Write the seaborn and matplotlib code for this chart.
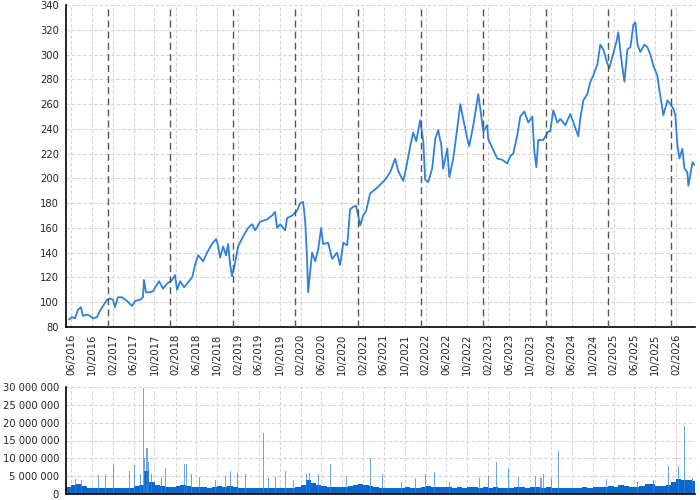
import numpy as np
import pandas as pd
import seaborn as sns
import matplotlib.pyplot as plt
import matplotlib.dates as mdates
from matplotlib.ticker import FuncFormatter

# price line
price_dates = [
    "2016-05-20", "2016-06-07", "2016-06-24", "2016-07-12", "2016-07-29", "2016-08-10", "2016-09-02",
    "2016-09-20", "2016-10-07", "2016-10-31", "2016-11-17", "2016-12-05", "2016-12-28", "2017-01-15",
    "2017-02-01", "2017-02-13", "2017-03-02", "2017-03-26", "2017-04-24", "2017-05-23", "2017-06-10",
    "2017-07-09", "2017-07-26", "2017-08-01", "2017-08-13", "2017-09-05", "2017-09-23", "2017-10-10",
    "2017-10-28", "2017-11-20", "2017-12-14", "2018-01-12", "2018-01-29", "2018-02-10", "2018-02-28",
    "2018-03-23", "2018-04-15", "2018-05-09", "2018-05-26", "2018-06-13", "2018-07-12", "2018-08-04",
    "2018-09-02", "2018-09-26", "2018-10-07", "2018-10-19", "2018-11-06", "2018-11-23", "2018-12-05",
    "2018-12-17", "2018-12-28", "2019-01-15", "2019-02-01", "2019-03-02", "2019-04-01", "2019-04-24",
    "2019-05-12", "2019-06-10", "2019-07-21", "2019-08-19", "2019-09-05", "2019-09-17", "2019-10-05",
    "2019-11-03", "2019-11-14", "2019-12-14", "2020-01-12", "2020-01-29", "2020-02-16", "2020-02-28",
    "2020-03-10", "2020-03-16", "2020-04-08", "2020-04-26", "2020-05-14", "2020-05-31", "2020-06-12",
    "2020-07-11", "2020-08-03", "2020-09-01", "2020-09-19", "2020-10-07", "2020-10-30", "2020-11-16",
    "2020-12-04", "2020-12-21", "2021-01-14", "2021-01-31", "2021-02-18", "2021-03-13", "2021-04-11",
    "2021-05-11", "2021-06-09", "2021-07-08", "2021-08-06", "2021-08-24", "2021-09-22", "2021-10-04",
    "2021-11-02", "2021-11-19", "2021-12-07", "2021-12-30", "2022-01-17", "2022-01-28", "2022-02-15",
    "2022-03-10", "2022-03-28", "2022-04-14", "2022-05-02", "2022-05-13", "2022-06-06", "2022-06-18",
    "2022-07-11", "2022-08-03", "2022-08-21", "2022-09-07", "2022-10-01", "2022-10-12", "2022-11-05",
    "2022-12-04", "2022-12-16", "2023-01-02", "2023-01-25", "2023-01-31", "2023-03-01", "2023-03-25",
    "2023-04-23", "2023-05-22", "2023-06-09", "2023-06-26", "2023-07-20", "2023-08-06", "2023-08-30",
    "2023-09-22", "2023-10-15", "2023-10-27", "2023-11-08", "2023-11-19", "2023-12-18", "2024-01-17",
    "2024-01-28", "2024-02-15", "2024-03-09", "2024-03-27", "2024-04-25", "2024-05-24", "2024-06-11",
    "2024-07-10", "2024-07-22", "2024-08-08", "2024-08-31", "2024-09-18", "2024-10-05", "2024-10-29",
    "2024-11-15", "2024-12-03", "2024-12-26", "2025-01-07", "2025-01-24", "2025-02-17", "2025-02-28",
    "2025-03-18", "2025-04-05", "2025-04-22", "2025-05-10", "2025-05-27", "2025-06-08", "2025-06-20",
    "2025-07-07", "2025-07-30", "2025-08-17", "2025-09-03", "2025-09-21", "2025-10-14", "2025-10-26",
    "2025-11-07", "2025-11-18", "2025-12-12", "2025-12-29", "2026-01-16", "2026-01-27", "2026-02-08",
    "2026-02-20", "2026-03-09", "2026-03-21", "2026-04-07", "2026-04-13", "2026-05-07", "2026-05-18",
]
price_values = [
    86, 88, 87, 94, 96, 89, 90,
    89, 87, 88, 93, 97, 102, 103,
    102, 96, 104, 104, 101, 97, 101,
    102, 104, 118, 108, 108, 109, 113,
    117, 111, 115, 118, 122, 110, 117,
    112, 116, 120, 130, 138, 133, 140,
    147, 151, 146, 136, 145, 138, 147,
    130, 121, 132, 145, 153, 160, 163,
    158, 165, 167, 170, 173, 160, 163,
    158, 168, 170, 174, 180, 181, 165,
    135, 108, 140, 133, 143, 160, 147,
    148, 135, 140, 130, 148, 146, 175,
    177, 178, 162, 170, 174, 188, 191,
    195, 199, 205, 216, 206, 198, 205,
    226, 237, 230, 247, 230, 199, 197,
    208, 232, 239, 227, 208, 224, 201,
    216, 240, 260, 248, 232, 226, 243,
    268, 256, 238, 243, 232, 223, 216,
    215, 212, 218, 220, 235, 250, 254,
    245, 250, 222, 209, 231, 231, 238,
    238, 255, 245, 248, 243, 252, 245,
    234, 249, 263, 268, 278, 283, 292,
    308, 304, 293, 289, 298, 310, 318,
    296, 278, 304, 306, 324, 326, 308,
    302, 308, 306, 300, 291, 283, 271,
    261, 251, 263, 260, 256, 251, 227,
    216, 224, 208, 205, 194, 213, 211,
]

# monthly base volume, millions (May 2016 .. May 2026)
vol_months = pd.date_range("2016-05-01", "2026-05-01", freq="MS")
vol_base = [
    2.0, 2.5, 2.8, 2.2, 1.8, 1.6, 1.8, 1.7,
    1.6, 1.8, 1.7, 1.6, 1.8, 2.2, 2.5, 6.5, 3.5, 2.4, 2.2, 2.0,
    2.0, 2.2, 2.6, 2.2, 2.0, 2.1, 1.9, 1.8, 1.9, 2.2, 2.0, 2.3,
    1.9, 1.8, 1.7, 1.6, 1.8, 1.7, 1.6, 1.8, 1.7, 1.6, 1.7, 1.8,
    2.0, 2.4, 4.0, 3.0, 2.4, 2.2, 2.0, 1.9, 2.0, 2.1, 2.3, 2.6,
    2.8, 2.4, 2.2, 1.9, 1.8, 1.7, 1.6, 1.7, 1.8, 1.9, 1.8, 1.7,
    2.0, 2.2, 2.1, 1.9, 2.0, 2.1, 1.8, 1.9, 1.8, 1.9, 2.0, 1.8,
    1.9, 1.8, 2.0, 1.7, 1.8, 1.8, 1.9, 2.0, 1.8, 2.1, 2.0, 1.8,
    1.9, 1.8, 1.7, 1.8, 1.7, 1.6, 1.7, 1.9, 1.8, 1.9, 2.0, 2.1,
    2.2, 2.0, 2.4, 2.2, 2.1, 2.0, 2.2, 2.8, 2.9, 2.3, 2.2, 2.4,
    3.5, 4.2, 4.0, 3.8, 3.6,
]

# single-day volume spikes, millions
spike_dates = [
    "2016-06-28", "2016-08-02", "2016-11-07", "2016-12-22", "2017-02-05", "2017-05-06", "2017-06-04",
    "2017-07-09", "2017-07-28", "2017-08-04", "2017-08-16", "2017-08-22", "2017-08-30", "2017-09-15",
    "2017-11-13", "2017-12-06", "2018-03-26", "2018-04-04", "2018-05-07", "2018-06-19", "2018-09-20",
    "2018-11-17", "2018-12-17", "2019-01-28", "2019-03-14", "2019-06-29", "2019-07-28", "2019-09-05",
    "2019-11-03", "2019-12-21", "2020-03-04", "2020-03-22", "2020-05-15", "2020-07-27", "2020-10-28",
    "2021-03-17", "2021-05-26", "2021-09-14", "2021-12-01", "2022-01-28", "2022-03-22", "2022-06-19",
    "2022-12-10", "2023-01-30", "2023-03-19", "2023-06-01", "2023-07-24", "2023-11-02", "2023-12-05",
    "2023-12-20", "2024-02-03", "2024-03-17", "2024-12-24", "2025-06-18", "2025-09-23", "2025-12-19",
    "2026-02-12", "2026-03-21", "2026-05-05",
]
spike_values = [
    4.1, 4.0, 5.3, 5.6, 8.0, 6.4, 8.2,
    5.5, 29.8, 10.0, 13.0, 12.8, 9.0, 5.5,
    4.5, 7.3, 8.5, 8.5, 5.5, 4.7, 4.0,
    5.0, 6.5, 5.8, 5.5, 17.2, 4.5, 4.8,
    6.5, 4.0, 5.5, 6.0, 5.5, 8.4, 5.0,
    10.0, 5.6, 3.5, 4.5, 5.6, 6.2, 3.5,
    4.5, 5.0, 8.9, 7.4, 4.8, 5.0, 4.5,
    5.5, 4.5, 12.0, 4.2, 3.5, 4.0, 7.8,
    7.8, 19.0, 4.5,
]

year_marks = pd.date_range("2017-01-01", "2026-01-01", freq="YS")

price = pd.DataFrame({"date": pd.to_datetime(price_dates), "close": price_values})
spikes = pd.DataFrame({"date": pd.to_datetime(spike_dates), "vol": np.array(spike_values) * 1e6})

sns.set_style("white")
plt.rcParams["font.family"] = ["DejaVu Sans"]

blue = "#2f82d8"
grid_kw = dict(color="#d4d4d4", linestyle=(0, (3, 2)), linewidth=0.8)

fig = plt.figure(figsize=(7, 5), dpi=100)
ax = fig.add_axes([0.0943, 0.346, 0.8986, 0.644])
axv = fig.add_axes([0.0943, 0.012, 0.8986, 0.214])

xmin, xmax = pd.Timestamp("2016-05-03"), pd.Timestamp("2026-05-22")

sns.lineplot(data=price, x="date", y="close", ax=ax, color=blue, linewidth=1.3)
for d in year_marks:
    ax.axvline(d, color="#555555", linestyle=(0, (5, 3)), linewidth=1.0, zorder=3)

ax.set_xlim(xmin, xmax)
ax.set_ylim(80, 340)
ax.set_yticks(range(80, 341, 20))
ax.xaxis.set_major_locator(mdates.MonthLocator(bymonth=[2, 6, 10], bymonthday=1))
ax.xaxis.set_major_formatter(mdates.DateFormatter("%m/%Y"))
ax.tick_params(axis="x", labelrotation=90, labelsize=7.2, length=3, width=1, pad=2)
ax.tick_params(axis="y", labelsize=7.2, length=3, width=1, pad=2)
ax.grid(True, **grid_kw)
ax.set_axisbelow(True)
ax.set_xlabel("")
ax.set_ylabel("")
for s in ["top", "right"]:
    ax.spines[s].set_visible(False)
for s in ["left", "bottom"]:
    ax.spines[s].set_linewidth(1.2)
    ax.spines[s].set_color("black")

# volume
axv.bar(vol_months, np.array(vol_base) * 1e6, width=31, align="edge", color="#0b67cc", linewidth=0)
axv.bar(spikes["date"], spikes["vol"], width=6, color="#2f82d8", alpha=0.7, linewidth=0)
axv.set_xlim(xmin, xmax)
axv.set_ylim(0, 30e6)
axv.set_yticks(np.arange(0, 30e6 + 1, 5e6))
axv.yaxis.set_major_formatter(FuncFormatter(lambda v, p: f"{int(v):,}".replace(",", " ")))
axv.xaxis.set_major_locator(mdates.MonthLocator(bymonth=[2, 6, 10], bymonthday=1))
axv.tick_params(axis="x", labelbottom=False, length=0)
axv.tick_params(axis="y", labelsize=7.2, length=3, width=1, pad=2)
axv.grid(True, **grid_kw)
axv.set_axisbelow(True)
for s in ["top", "right"]:
    axv.spines[s].set_visible(False)
for s in ["left", "bottom"]:
    axv.spines[s].set_linewidth(1.2)
    axv.spines[s].set_color("black")

fig.savefig("out.png", dpi=100)
